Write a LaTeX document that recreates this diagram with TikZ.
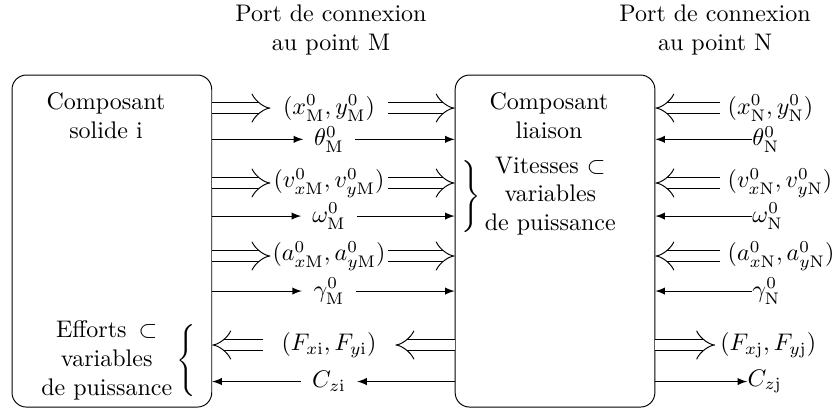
\documentclass[tikz,border=0pt]{standalone}
\usepackage{tikz}
\usetikzlibrary{arrows}
\usetikzlibrary{arrows.meta}

\begin{document}
\begin{tikzpicture}[yscale=-1,
	box/.style={draw,rounded corners=6pt,minimum width=2.924cm,minimum height=4.861cm},
	dbl/.style={double,double distance=4pt,-implies},
	sgl/.style={-latex},
	midlabel/.style={inner sep=0pt,minimum width=#1},
	rightlabel/.style={anchor=west,inner sep=0pt}]

\useasboundingbox (0,0) rectangle (12.196,6.061);

\node (port_label_m)	at (4.846,0.436)	[align=center] {Port de connexion\\au point M};
\node (port_label_n)	at (10.469,0.436)	[align=center] {Port de connexion\\au point N};

\node (solide)		at (1.638,3.529)	[box] {};
\node (liaison)		at (8.126,3.529)	[box] {};
\node (solide_label)	at (1.552,1.696)	[align=center] {Composant\\solide i};
\node (liaison_label)	at (8.038,1.696)	[align=center] {Composant\\liaison};
\node (efforts_label)	at (2.870,5.280)	[anchor=east,inner sep=0pt] {\begin{tabular}{@{}c@{}}Efforts\enspace$\subset$\\variables\\de puissance\end{tabular}\,$\Bigg\{$};
\node (vitesses_label)	at (6.750,2.873)	[anchor=west,inner sep=0pt] {$\Bigg\}$\,\begin{tabular}{@{}c@{}}Vitesses $\subset$\\variables\\de puissance\end{tabular}};

\node (pos_m)		at (4.817,1.582)	[midlabel=1.70cm] {$(x^0_{\mathrm{M}},y^0_{\mathrm{M}})$};
\node (theta_m)		at (4.817,2.040)	[midlabel=0.74cm] {$\theta^0_{\mathrm{M}}$};
\node (vit_m)		at (4.817,2.679)	[midlabel=1.70cm] {$(v^0_{x\mathrm{M}},v^0_{y\mathrm{M}})$};
\node (omega_m)		at (4.817,3.163)	[midlabel=0.80cm] {$\omega^0_{\mathrm{M}}$};
\node (acc_m)		at (4.817,3.748)	[midlabel=1.70cm] {$(a^0_{x\mathrm{M}},a^0_{y\mathrm{M}})$};
\node (gamma_m)		at (4.817,4.261)	[midlabel=0.78cm] {$\gamma^0_{\mathrm{M}}$};
\node (effort_i)	at (4.817,5.051)	[midlabel=1.93cm] {$(F_{x\mathrm{i}},F_{y\mathrm{i}})$};
\node (couple_i)	at (4.817,5.586)	[midlabel=0.81cm] {$C_{z\mathrm{i}}$};

\draw [dbl] (solide.east |- pos_m) to (pos_m);
\draw [dbl] (pos_m) to (liaison.west |- pos_m);
\draw [sgl] (solide.east |- theta_m) to (theta_m);
\draw [sgl] (theta_m) to (liaison.west |- theta_m);
\draw [dbl] (solide.east |- vit_m) to (vit_m);
\draw [dbl] (vit_m) to (liaison.west |- vit_m);
\draw [sgl] (solide.east |- omega_m) to (omega_m);
\draw [sgl] (omega_m) to (liaison.west |- omega_m);
\draw [dbl] (solide.east |- acc_m) to (acc_m);
\draw [dbl] (acc_m) to (liaison.west |- acc_m);
\draw [sgl] (solide.east |- gamma_m) to (gamma_m);
\draw [sgl] (gamma_m) to (liaison.west |- gamma_m);
\draw [dbl] (liaison.west |- effort_i) to (effort_i);
\draw [dbl] (effort_i) to (solide.east |- effort_i);
\draw [sgl] (liaison.west |- couple_i) to (couple_i);
\draw [sgl] (couple_i) to (solide.east |- couple_i);

\node (pos_n)		at (10.542,1.582)	[rightlabel,inner xsep=3pt] {$(x^0_{\mathrm{N}},y^0_{\mathrm{N}})$};
\node (theta_n)		at (11.010,2.040)	[rightlabel] {$\theta^0_{\mathrm{N}}$};
\node (vit_n)		at (10.542,2.679)	[rightlabel,inner xsep=3pt] {$(v^0_{x\mathrm{N}},v^0_{y\mathrm{N}})$};
\node (omega_n)		at (11.010,3.163)	[rightlabel] {$\omega^0_{\mathrm{N}}$};
\node (acc_n)		at (10.542,3.748)	[rightlabel,inner xsep=3pt] {$(a^0_{x\mathrm{N}},a^0_{y\mathrm{N}})$};
\node (gamma_n)		at (11.010,4.261)	[rightlabel] {$\gamma^0_{\mathrm{N}}$};
\node (effort_j)	at (10.470,5.051)	[rightlabel,inner xsep=2pt] {$(F_{x\mathrm{j}},F_{y\mathrm{j}})$};
\node (couple_j)	at (10.940,5.586)	[rightlabel] {$C_{z\mathrm{j}}$};

\draw [dbl] (pos_n) to (liaison.east |- pos_n);
\draw [sgl] (theta_n) to (liaison.east |- theta_n);
\draw [dbl] (vit_n) to (liaison.east |- vit_n);
\draw [sgl] (omega_n) to (liaison.east |- omega_n);
\draw [dbl] (acc_n) to (liaison.east |- acc_n);
\draw [sgl] (gamma_n) to (liaison.east |- gamma_n);
\draw [dbl] (liaison.east |- effort_j) to (effort_j);
\draw [sgl] (liaison.east |- couple_j) to (couple_j);

\end{tikzpicture}
\end{document}
